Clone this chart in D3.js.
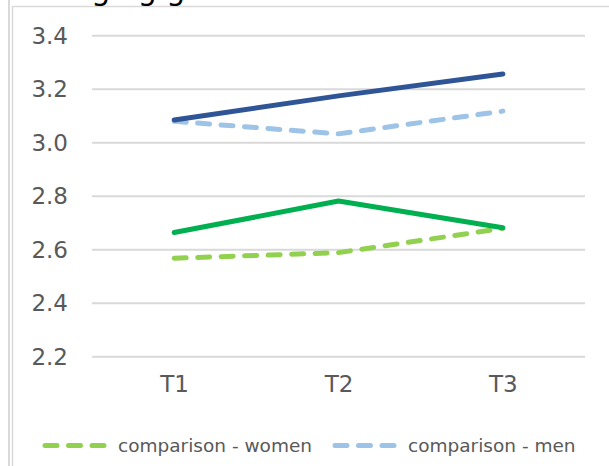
<!DOCTYPE html>
<html>
<head>
<meta charset="utf-8">
<script src="https://cdn.jsdelivr.net/npm/d3@7"></script>
<style>
  html, body { margin: 0; padding: 0; background: #fff; }
  svg { display: block; font-family: "DejaVu Sans", Verdana, sans-serif; }
</style>
</head>
<body>
<svg id="chart"></svg>
<script>
// data
var periods = ['T1', 'T2', 'T3'];
var yTicks = [2.2, 2.4, 2.6, 2.8, 3.0, 3.2, 3.4];

var interventionMen = [3.085, 3.175, 3.257];
var comparisonMen = [3.08, 3.033, 3.118];
var interventionWomen = [2.664, 2.782, 2.682];
var comparisonWomen = [2.568, 2.589, 2.68];

var series = [
    {name: 'intervention - men', values: interventionMen, color: '#2F5597', dashed: false, legend: false},
    {name: 'comparison - men', values: comparisonMen, color: '#9DC3E6', dashed: true, legend: true},
    {name: 'intervention - women', values: interventionWomen, color: '#00B050', dashed: false, legend: false},
    {name: 'comparison - women', values: comparisonWomen, color: '#92D050', dashed: true, legend: true}
];

var svgWidth = 609,
    svgHeight = 466;

var svg = d3.select('#chart')
    .attr('width', svgWidth)
    .attr('height', svgHeight);

// chart frame (clipped at the image edge)
svg.append('line')
    .attr('x1', 9).attr('x2', 9)
    .attr('y1', 0).attr('y2', svgHeight)
    .attr('stroke', '#d9d9d9')
    .attr('stroke-width', 2);

svg.append('rect')
    .attr('x', 12.5).attr('y', 6.5)
    .attr('width', 700).attr('height', 600)
    .attr('fill', '#fff')
    .attr('stroke', '#d9d9d9')
    .attr('stroke-width', 1.5);

// title, mostly cut off at the top
svg.append('text')
    .attr('x', 14)
    .attr('y', 0)
    .attr('font-size', 30)
    .attr('fill', '#000')
    .text('Changing green');

var x = d3.scalePoint()
    .domain(periods)
    .range([92, 585])
    .padding(0.5);

var y = d3.scaleLinear()
    .domain([2.2, 3.4])
    .range([356.7, 35.7]);

// gridlines
svg.append('g')
    .selectAll('line')
    .data(yTicks)
    .enter().append('line')
    .attr('x1', 92)
    .attr('x2', 585)
    .attr('y1', function(d) { return y(d); })
    .attr('y2', function(d) { return y(d); })
    .attr('stroke', '#d9d9d9')
    .attr('stroke-width', 2);

// y axis labels
var yAxis = svg.append('g')
    .attr('transform', 'translate(68,0)')
    .call(d3.axisLeft(y).tickValues(yTicks).tickFormat(d3.format('.1f')).tickSize(0).tickPadding(0));
yAxis.select('.domain').remove();
yAxis.selectAll('text')
    .attr('font-size', 23)
    .attr('font-family', '"DejaVu Sans", Verdana, sans-serif')
    .attr('fill', '#595959');

// x axis labels
var xAxis = svg.append('g')
    .attr('transform', 'translate(0,376)')
    .call(d3.axisBottom(x).tickSize(0).tickPadding(0));
xAxis.select('.domain').remove();
xAxis.selectAll('text')
    .attr('font-size', 23)
    .attr('font-family', '"DejaVu Sans", Verdana, sans-serif')
    .attr('fill', '#595959');

var line = d3.line()
    .x(function(d, i) { return x(periods[i]); })
    .y(function(d) { return y(d); });

// dashed lines first, solid ones on top
var order = [series[3], series[1], series[2], series[0]];
svg.append('g')
    .selectAll('path')
    .data(order)
    .enter().append('path')
    .attr('d', function(d) { return line(d.values); })
    .attr('fill', 'none')
    .attr('stroke', function(d) { return d.color; })
    .attr('stroke-width', 5)
    .attr('stroke-linecap', 'round')
    .attr('stroke-linejoin', 'round')
    .attr('stroke-dasharray', function(d) { return d.dashed ? '12,11.5' : null; });

// legend
var legendItems = [series[3], series[1]];
var legendX = [42, 332];
var legend = svg.append('g')
    .selectAll('g')
    .data(legendItems)
    .enter().append('g')
    .attr('transform', function(d, i) { return 'translate(' + legendX[i] + ',445.5)'; });

legend.append('line')
    .attr('x1', 3).attr('x2', 62)
    .attr('y1', 0).attr('y2', 0)
    .attr('stroke', function(d) { return d.color; })
    .attr('stroke-width', 5)
    .attr('stroke-linecap', 'round')
    .attr('stroke-dasharray', '12,11.5');

legend.append('text')
    .attr('x', 76)
    .attr('dy', '0.35em')
    .attr('font-size', 18.5)
    .attr('fill', '#595959')
    .text(function(d) { return d.name; });
</script>
</body>
</html>
